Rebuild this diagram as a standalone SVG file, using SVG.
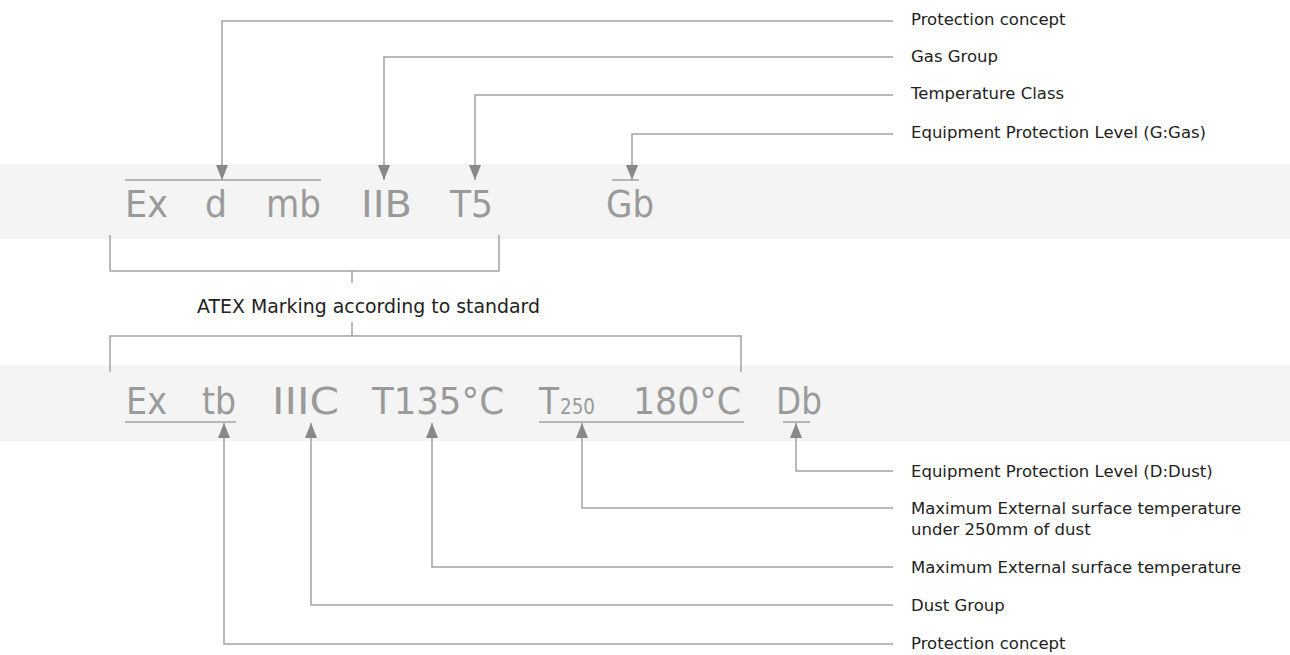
<svg xmlns="http://www.w3.org/2000/svg" width="1290" height="655" viewBox="0 0 1290 655">
<style>
.band{fill:#f4f4f4}
.big{font-family:"DejaVu Sans",Verdana,sans-serif;font-size:38px;fill:#9a9a9a}
.sub{font-family:"DejaVu Sans",Verdana,sans-serif;font-size:21px;fill:#9a9a9a}
.lbl{font-family:"DejaVu Sans",Verdana,sans-serif;font-size:16.5px;fill:#222}
.ttl{font-family:"DejaVu Sans",Verdana,sans-serif;font-size:20px;fill:#222}
.ln{fill:none;stroke:#a3a3a3;stroke-width:1.5}
.ar{fill:none;stroke:#a3a3a3;stroke-width:1.5;marker-end:url(#ah)}
</style>
<defs>
<marker id="ah" viewBox="0 0 15 12" refX="15" refY="6" markerWidth="15" markerHeight="12" markerUnits="userSpaceOnUse" orient="auto">
<path d="M0,0 L15,6 L0,12 z" fill="#888"/>
</marker>
</defs>
<rect class="band" x="0" y="164" width="1290" height="75"/>
<rect class="band" x="0" y="365" width="1290" height="76"/>
<g id="gas-marking">
<text class="big" x="125" y="217" textLength="43" lengthAdjust="spacingAndGlyphs">Ex</text>
<text class="big" x="205" y="217" textLength="22" lengthAdjust="spacingAndGlyphs">d</text>
<text class="big" x="266" y="217" textLength="55" lengthAdjust="spacingAndGlyphs">mb</text>
<text class="big" x="361" y="217" textLength="51" lengthAdjust="spacingAndGlyphs">IIB</text>
<text class="big" x="450" y="217" textLength="43" lengthAdjust="spacingAndGlyphs">T5</text>
<text class="big" x="606" y="217" textLength="48" lengthAdjust="spacingAndGlyphs">Gb</text>
<path class="ln" d="M125,180 H321 M612,180 H639"/>
</g>
<g id="dust-marking">
<text class="big" x="126" y="414" textLength="41" lengthAdjust="spacingAndGlyphs">Ex</text>
<text class="big" x="202" y="414" textLength="34" lengthAdjust="spacingAndGlyphs">tb</text>
<text class="big" x="272" y="414" textLength="67" lengthAdjust="spacingAndGlyphs">IIIC</text>
<text class="big" x="372" y="414" textLength="132" lengthAdjust="spacingAndGlyphs">T135°C</text>
<text class="big" x="539" y="414" textLength="20" lengthAdjust="spacingAndGlyphs">T</text>
<text class="sub" x="560" y="414" textLength="35" lengthAdjust="spacingAndGlyphs">250</text>
<text class="big" x="633" y="414" textLength="108" lengthAdjust="spacingAndGlyphs">180°C</text>
<text class="big" x="776" y="414" textLength="46" lengthAdjust="spacingAndGlyphs">Db</text>
<path class="ln" d="M125,422 H236 M539,422 H744 M783,422 H810"/>
</g>
<g id="atex-label">
<text class="ttl" x="197" y="313" textLength="343" lengthAdjust="spacingAndGlyphs">ATEX Marking according to standard</text>
</g>
<g id="labels">
<text class="lbl" x="911" y="25">Protection concept</text>
<text class="lbl" x="911" y="62">Gas Group</text>
<text class="lbl" x="911" y="99">Temperature Class</text>
<text class="lbl" x="911" y="138">Equipment Protection Level (G:Gas)</text>
<text class="lbl" x="911" y="477">Equipment Protection Level (D:Dust)</text>
<text class="lbl" x="911" y="514">Maximum External surface temperature</text>
<text class="lbl" x="911" y="535">under 250mm of dust</text>
<text class="lbl" x="911" y="573">Maximum External surface temperature</text>
<text class="lbl" x="911" y="611">Dust Group</text>
<text class="lbl" x="911" y="649">Protection concept</text>
</g>
<g id="connectors">
<path class="ar" d="M893,21 H222 V180"/>
<path class="ar" d="M893,57 H384 V180"/>
<path class="ar" d="M893,95 H475 V180"/>
<path class="ar" d="M893,134 H632 V180"/>
<path class="ar" d="M893,471 H796 V423"/>
<path class="ar" d="M893,508 H582 V423"/>
<path class="ar" d="M893,567 H432 V423"/>
<path class="ar" d="M893,605 H311 V423"/>
<path class="ar" d="M893,644 H224 V423"/>
<path class="ln" d="M110,235 V271 H499 V235 M352,271 V283"/>
<path class="ln" d="M110,372 V336 H741 V372 M352,322 V336"/>
</g>
</svg>
